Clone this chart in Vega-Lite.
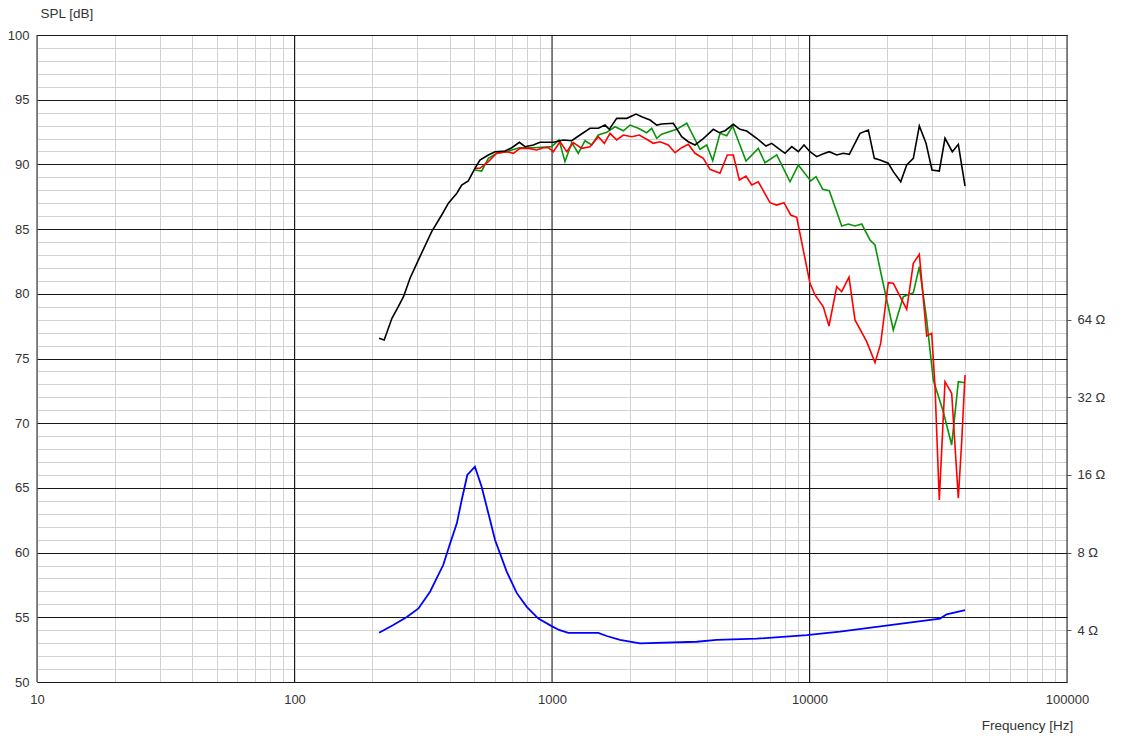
{
  "$schema": "https://vega.github.io/schema/vega-lite/v6.json",
  "autosize": {"type": "none"},
  "padding": {"left": 37, "top": 35, "right": 55, "bottom": 56},
  "width": 1030,
  "height": 647,
  "background": "#ffffff",
  "config": {
    "view": {"stroke": "#1a1a1a", "strokeWidth": 1},
    "axis": {
      "labelFont": "Liberation Sans",
      "labelFontSize": 13,
      "labelColor": "#333333",
      "titleFont": "Liberation Sans",
      "titleFontSize": 13.5,
      "titleFontWeight": "normal",
      "titleColor": "#333333",
      "labelOverlap": false,
      "labelBound": false,
      "labelFlush": false
    }
  },
  "datasets": {
    "xmajor": [{"f": 10}, {"f": 100}, {"f": 1000}, {"f": 10000}, {"f": 100000}],
    "spl": [
      {"s": "green", "f": 502, "db": 89.57}, {"s": "green", "f": 533, "db": 89.49}, {"s": "green", "f": 566, "db": 90.47}, {"s": "green", "f": 610, "db": 90.86}, {"s": "green", "f": 667, "db": 90.98}, {"s": "green", "f": 698, "db": 91.12}, {"s": "green", "f": 747, "db": 91.29}, {"s": "green", "f": 846, "db": 91.29}, {"s": "green", "f": 912, "db": 91.32}, {"s": "green", "f": 997, "db": 91.37}, {"s": "green", "f": 1065, "db": 91.89}, {"s": "green", "f": 1123, "db": 90.21}, {"s": "green", "f": 1193, "db": 91.68}, {"s": "green", "f": 1265, "db": 90.86}, {"s": "green", "f": 1343, "db": 91.83}, {"s": "green", "f": 1427, "db": 91.5}, {"s": "green", "f": 1513, "db": 92.27}, {"s": "green", "f": 1631, "db": 92.48}, {"s": "green", "f": 1757, "db": 92.91}, {"s": "green", "f": 1892, "db": 92.6}, {"s": "green", "f": 2009, "db": 93.04}, {"s": "green", "f": 2163, "db": 92.79}, {"s": "green", "f": 2332, "db": 92.45}, {"s": "green", "f": 2439, "db": 92.79}, {"s": "green", "f": 2551, "db": 92.02}, {"s": "green", "f": 2667, "db": 92.33}, {"s": "green", "f": 3050, "db": 92.71}, {"s": "green", "f": 3336, "db": 93.18}, {"s": "green", "f": 3756, "db": 91.17}, {"s": "green", "f": 3988, "db": 91.5}, {"s": "green", "f": 4208, "db": 90.29}, {"s": "green", "f": 4492, "db": 92.4}, {"s": "green", "f": 4769, "db": 92.22}, {"s": "green", "f": 5031, "db": 92.97}, {"s": "green", "f": 5668, "db": 90.26}, {"s": "green", "f": 6327, "db": 91.24}, {"s": "green", "f": 6717, "db": 90.13}, {"s": "green", "f": 7460, "db": 90.73}, {"s": "green", "f": 8401, "db": 88.66}, {"s": "green", "f": 9048, "db": 89.95}, {"s": "green", "f": 10109, "db": 88.72}, {"s": "green", "f": 10598, "db": 89.05}, {"s": "green", "f": 11253, "db": 88.08}, {"s": "green", "f": 11936, "db": 87.97}, {"s": "green", "f": 13335, "db": 85.24}, {"s": "green", "f": 14148, "db": 85.39}, {"s": "green", "f": 15020, "db": 85.24}, {"s": "green", "f": 15950, "db": 85.39}, {"s": "green", "f": 17179, "db": 84.16}, {"s": "green", "f": 17964, "db": 83.77}, {"s": "green", "f": 19074, "db": 81.32}, {"s": "green", "f": 21155, "db": 77.2}, {"s": "green", "f": 23140, "db": 79.78}, {"s": "green", "f": 25305, "db": 80.09}, {"s": "green", "f": 26700, "db": 82.09}, {"s": "green", "f": 28520, "db": 77.98}, {"s": "green", "f": 30260, "db": 73.34}, {"s": "green", "f": 33080, "db": 70.89}, {"s": "green", "f": 35660, "db": 68.32}, {"s": "green", "f": 37840, "db": 73.21}, {"s": "green", "f": 40180, "db": 73.13},
      {"s": "red", "f": 502, "db": 89.7}, {"s": "red", "f": 525, "db": 89.7}, {"s": "red", "f": 566, "db": 90.21}, {"s": "red", "f": 610, "db": 90.86}, {"s": "red", "f": 667, "db": 90.98}, {"s": "red", "f": 708, "db": 90.86}, {"s": "red", "f": 751, "db": 91.24}, {"s": "red", "f": 809, "db": 91.24}, {"s": "red", "f": 872, "db": 91.11}, {"s": "red", "f": 925, "db": 91.29}, {"s": "red", "f": 968, "db": 91.29}, {"s": "red", "f": 1012, "db": 90.98}, {"s": "red", "f": 1074, "db": 91.75}, {"s": "red", "f": 1141, "db": 90.98}, {"s": "red", "f": 1210, "db": 91.68}, {"s": "red", "f": 1304, "db": 91.24}, {"s": "red", "f": 1405, "db": 91.37}, {"s": "red", "f": 1513, "db": 92.14}, {"s": "red", "f": 1597, "db": 91.63}, {"s": "red", "f": 1680, "db": 92.4}, {"s": "red", "f": 1783, "db": 91.89}, {"s": "red", "f": 1892, "db": 92.27}, {"s": "red", "f": 2040, "db": 92.14}, {"s": "red", "f": 2183, "db": 92.27}, {"s": "red", "f": 2332, "db": 91.94}, {"s": "red", "f": 2474, "db": 91.63}, {"s": "red", "f": 2627, "db": 91.75}, {"s": "red", "f": 2829, "db": 91.5}, {"s": "red", "f": 3004, "db": 90.9}, {"s": "red", "f": 3189, "db": 91.29}, {"s": "red", "f": 3383, "db": 91.55}, {"s": "red", "f": 3592, "db": 90.86}, {"s": "red", "f": 3869, "db": 90.47}, {"s": "red", "f": 4108, "db": 89.62}, {"s": "red", "f": 4492, "db": 89.31}, {"s": "red", "f": 4796, "db": 90.73}, {"s": "red", "f": 5060, "db": 90.73}, {"s": "red", "f": 5339, "db": 88.79}, {"s": "red", "f": 5668, "db": 89.1}, {"s": "red", "f": 5965, "db": 88.41}, {"s": "red", "f": 6327, "db": 88.66}, {"s": "red", "f": 7024, "db": 87.04}, {"s": "red", "f": 7460, "db": 86.86}, {"s": "red", "f": 7962, "db": 87.04}, {"s": "red", "f": 8453, "db": 86.09}, {"s": "red", "f": 8919, "db": 85.91}, {"s": "red", "f": 10044, "db": 80.81}, {"s": "red", "f": 10505, "db": 79.91}, {"s": "red", "f": 11313, "db": 79.0}, {"s": "red", "f": 11904, "db": 77.51}, {"s": "red", "f": 12757, "db": 80.55}, {"s": "red", "f": 13335, "db": 80.16}, {"s": "red", "f": 14235, "db": 81.28}, {"s": "red", "f": 15020, "db": 77.98}, {"s": "red", "f": 16680, "db": 76.3}, {"s": "red", "f": 17964, "db": 74.68}, {"s": "red", "f": 18903, "db": 76.17}, {"s": "red", "f": 20230, "db": 80.86}, {"s": "red", "f": 21155, "db": 80.81}, {"s": "red", "f": 23852, "db": 78.8}, {"s": "red", "f": 25305, "db": 82.36}, {"s": "red", "f": 26700, "db": 83.05}, {"s": "red", "f": 28520, "db": 76.74}, {"s": "red", "f": 29830, "db": 76.95}, {"s": "red", "f": 30720, "db": 72.82}, {"s": "red", "f": 31920, "db": 64.07}, {"s": "red", "f": 33590, "db": 73.21}, {"s": "red", "f": 35660, "db": 72.31}, {"s": "red", "f": 37840, "db": 64.2}, {"s": "red", "f": 39000, "db": 68.57}, {"s": "red", "f": 40180, "db": 73.72},
      {"s": "black", "f": 213, "db": 76.56}, {"s": "black", "f": 223, "db": 76.43}, {"s": "black", "f": 239, "db": 78.11}, {"s": "black", "f": 253, "db": 79.0}, {"s": "black", "f": 265, "db": 79.78}, {"s": "black", "f": 281, "db": 81.2}, {"s": "black", "f": 307, "db": 82.87}, {"s": "black", "f": 341, "db": 84.8}, {"s": "black", "f": 373, "db": 86.09}, {"s": "black", "f": 396, "db": 87.0}, {"s": "black", "f": 427, "db": 87.77}, {"s": "black", "f": 446, "db": 88.41}, {"s": "black", "f": 473, "db": 88.72}, {"s": "black", "f": 502, "db": 89.7}, {"s": "black", "f": 525, "db": 90.34}, {"s": "black", "f": 566, "db": 90.73}, {"s": "black", "f": 601, "db": 90.98}, {"s": "black", "f": 657, "db": 91.04}, {"s": "black", "f": 698, "db": 91.29}, {"s": "black", "f": 747, "db": 91.71}, {"s": "black", "f": 786, "db": 91.37}, {"s": "black", "f": 846, "db": 91.5}, {"s": "black", "f": 898, "db": 91.71}, {"s": "black", "f": 1012, "db": 91.71}, {"s": "black", "f": 1106, "db": 91.89}, {"s": "black", "f": 1193, "db": 91.83}, {"s": "black", "f": 1284, "db": 92.27}, {"s": "black", "f": 1405, "db": 92.79}, {"s": "black", "f": 1513, "db": 92.79}, {"s": "black", "f": 1606, "db": 93.04}, {"s": "black", "f": 1669, "db": 92.71}, {"s": "black", "f": 1783, "db": 93.56}, {"s": "black", "f": 1951, "db": 93.56}, {"s": "black", "f": 2120, "db": 93.89}, {"s": "black", "f": 2231, "db": 93.69}, {"s": "black", "f": 2403, "db": 93.43}, {"s": "black", "f": 2551, "db": 93.04}, {"s": "black", "f": 2667, "db": 93.12}, {"s": "black", "f": 2959, "db": 93.18}, {"s": "black", "f": 3189, "db": 92.14}, {"s": "black", "f": 3383, "db": 91.75}, {"s": "black", "f": 3592, "db": 91.5}, {"s": "black", "f": 3869, "db": 92.0}, {"s": "black", "f": 4231, "db": 92.71}, {"s": "black", "f": 4464, "db": 92.45}, {"s": "black", "f": 4697, "db": 92.6}, {"s": "black", "f": 5060, "db": 93.1}, {"s": "black", "f": 5372, "db": 92.71}, {"s": "black", "f": 5703, "db": 92.58}, {"s": "black", "f": 6237, "db": 92.02}, {"s": "black", "f": 6777, "db": 91.42}, {"s": "black", "f": 7132, "db": 91.63}, {"s": "black", "f": 7567, "db": 91.24}, {"s": "black", "f": 8033, "db": 90.86}, {"s": "black", "f": 8529, "db": 91.37}, {"s": "black", "f": 9048, "db": 90.98}, {"s": "black", "f": 9520, "db": 91.5}, {"s": "black", "f": 10044, "db": 90.98}, {"s": "black", "f": 10665, "db": 90.6}, {"s": "black", "f": 11253, "db": 90.8}, {"s": "black", "f": 11936, "db": 90.98}, {"s": "black", "f": 12757, "db": 90.73}, {"s": "black", "f": 13530, "db": 90.86}, {"s": "black", "f": 14275, "db": 90.78}, {"s": "black", "f": 15711, "db": 92.4}, {"s": "black", "f": 16923, "db": 92.66}, {"s": "black", "f": 17856, "db": 90.47}, {"s": "black", "f": 18785, "db": 90.34}, {"s": "black", "f": 20230, "db": 90.09}, {"s": "black", "f": 21155, "db": 89.44}, {"s": "black", "f": 22606, "db": 88.66}, {"s": "black", "f": 23852, "db": 89.95}, {"s": "black", "f": 25305, "db": 90.47}, {"s": "black", "f": 26700, "db": 92.97}, {"s": "black", "f": 28350, "db": 91.63}, {"s": "black", "f": 29910, "db": 89.57}, {"s": "black", "f": 31920, "db": 89.49}, {"s": "black", "f": 33590, "db": 92.02}, {"s": "black", "f": 35860, "db": 90.98}, {"s": "black", "f": 37840, "db": 91.55}, {"s": "black", "f": 40180, "db": 88.33}
    ],
    "imp": [
      {"f": 213, "ohm": 3.91}, {"f": 242, "ohm": 4.19}, {"f": 273, "ohm": 4.5}, {"f": 303, "ohm": 4.86}, {"f": 336, "ohm": 5.64}, {"f": 378, "ohm": 7.16}, {"f": 402, "ohm": 8.68}, {"f": 427, "ohm": 10.39}, {"f": 446, "ohm": 12.79}, {"f": 469, "ohm": 16.0}, {"f": 502, "ohm": 17.23}, {"f": 533, "ohm": 14.4}, {"f": 566, "ohm": 11.37}, {"f": 601, "ohm": 8.95}, {"f": 667, "ohm": 6.75}, {"f": 730, "ohm": 5.57}, {"f": 798, "ohm": 4.93}, {"f": 885, "ohm": 4.44}, {"f": 997, "ohm": 4.15}, {"f": 1065, "ohm": 4.01}, {"f": 1157, "ohm": 3.91}, {"f": 1513, "ohm": 3.91}, {"f": 1631, "ohm": 3.8}, {"f": 1837, "ohm": 3.67}, {"f": 2197, "ohm": 3.56}, {"f": 3648, "ohm": 3.61}, {"f": 4361, "ohm": 3.67}, {"f": 6237, "ohm": 3.71}, {"f": 9752, "ohm": 3.83}, {"f": 13130, "ohm": 3.95}, {"f": 20550, "ohm": 4.19}, {"f": 32130, "ohm": 4.44}, {"f": 34100, "ohm": 4.61}, {"f": 40180, "ohm": 4.79}
    ]
  },
  "layer": [
    {
      "data": {"name": "xmajor"},
      "mark": {"type": "rule", "color": "#1a1a1a", "strokeWidth": 1},
      "encoding": {
        "x": {
          "field": "f", "type": "quantitative",
          "scale": {"type": "log", "domain": [10, 100000], "nice": false},
          "axis": {
            "values": [10, 20, 30, 40, 50, 60, 70, 80, 90, 100, 200, 300, 400, 500, 600, 700, 800, 900, 1000, 2000, 3000, 4000, 5000, 6000, 7000, 8000, 9000, 10000, 20000, 30000, 40000, 50000, 60000, 70000, 80000, 90000, 100000],
            "labelExpr": "indexof([10, 100, 1000, 10000, 100000], datum.value) >= 0 ? format(datum.value, 'd') : ''",
            "grid": true,
            "gridColor": "#d2d2d2",
            "gridWidth": 1,
            "ticks": false,
            "domain": false,
            "labelPadding": 11,
            "title": "Frequency [Hz]",
            "titleX": 990,
            "titleY": 43,
            "titleAlign": "center",
            "titleBaseline": "middle",
            "titleAnchor": null
          }
        }
      }
    },
    {
      "data": {"name": "spl"},
      "mark": {"type": "line", "strokeWidth": 1.6, "clip": true},
      "encoding": {
        "x": {"field": "f", "type": "quantitative"},
        "y": {
          "field": "db", "type": "quantitative",
          "scale": {"domain": [50, 100], "nice": false, "zero": false},
          "axis": {
            "orient": "left",
            "values": [50, 51, 52, 53, 54, 55, 56, 57, 58, 59, 60, 61, 62, 63, 64, 65, 66, 67, 68, 69, 70, 71, 72, 73, 74, 75, 76, 77, 78, 79, 80, 81, 82, 83, 84, 85, 86, 87, 88, 89, 90, 91, 92, 93, 94, 95, 96, 97, 98, 99, 100],
            "labelExpr": "datum.value % 5 === 0 ? datum.label : ''",
            "grid": true,
            "gridColor": {"condition": {"test": "datum.value % 5 === 0", "value": "#1a1a1a"}, "value": "#d2d2d2"},
            "gridWidth": 1,
            "ticks": false,
            "domain": false,
            "labelPadding": 8,
            "title": "SPL [dB]",
            "titleAngle": 0,
            "titleX": 3,
            "titleY": -22,
            "titleAlign": "left",
            "titleBaseline": "middle",
            "titleAnchor": null
          }
        },
        "color": {
          "field": "s", "type": "nominal",
          "scale": {"domain": ["green", "red", "black"], "range": ["#0a940a", "#ff0000", "#000000"]},
          "legend": null
        }
      }
    },
    {
      "data": {"name": "imp"},
      "mark": {"type": "line", "strokeWidth": 1.8, "color": "#0000ff", "clip": true},
      "encoding": {
        "x": {"field": "f", "type": "quantitative"},
        "y": {
          "field": "ohm", "type": "quantitative",
          "scale": {"type": "log", "domain": [2.52, 812.7], "nice": false},
          "axis": {
            "orient": "right",
            "values": [4, 8, 16, 32, 64],
            "labelExpr": "datum.value + ' Ω'",
            "grid": false,
            "ticks": true,
            "tickSize": 4,
            "tickColor": "#555555",
            "domain": false,
            "labelPadding": 6,
            "title": null
          }
        }
      }
    }
  ],
  "resolve": {"scale": {"y": "independent"}}
}
